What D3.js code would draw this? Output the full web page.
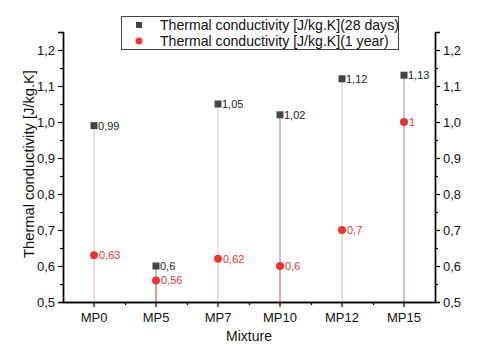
<!DOCTYPE html>
<html>
<head>
<meta charset="utf-8">
<script src="https://cdn.jsdelivr.net/npm/d3@7"></script>
<style>
  body { margin: 0; background: #fff; }
  text { font-family: "Liberation Sans", Arial, sans-serif; }
</style>
</head>
<body>
<svg id="chart" width="477" height="352"></svg>
<script>
var mixtures = ["MP0", "MP5", "MP7", "MP10", "MP12", "MP15"];
var days28 = [0.99, 0.6, 1.05, 1.02, 1.12, 1.13];
var year1 = [0.63, 0.56, 0.62, 0.6, 0.7, 1.0];
var yTicks = [0.5, 0.6, 0.7, 0.8, 0.9, 1.0, 1.1, 1.2];
var seriesNames = ["Thermal conductivity [J/kg.K](28 days)", "Thermal conductivity [J/kg.K](1 year)"];

// drop line shades (as rendered in the original)
var grayShades = ["#d6d6d6", "#9a9a9a", "#d6d6d6", "#9a9a9a", "#d6d6d6", "#ababab"];
var pinkShades = ["#fbd3d3", "#f77c7c", "#fbd3d3", "#f79090", "#fbd3d3", "#f7a0a0"];

var svg = d3.select("#chart");
var plotLeft = 63, plotRight = 435, plotTop = 32, plotBottom = 302;

var x = d3.scaleBand().domain(mixtures).range([plotLeft, plotRight]);
var y = d3.scaleLinear().domain([0.5, 1.25]).range([plotBottom, plotTop]);
var cx = d => x(d) + x.bandwidth() / 2;
var fmt = v => String(v).replace(".", ",");

// drop lines
var g = svg.append("g");
g.selectAll(".gline").data(mixtures).enter().append("line")
  .attr("x1", d => cx(d)).attr("x2", d => cx(d))
  .attr("y1", (d, i) => y(days28[i])).attr("y2", plotBottom)
  .attr("stroke", (d, i) => grayShades[i]).attr("stroke-width", 1.2);
g.selectAll(".pline").data(mixtures).enter().append("line")
  .attr("x1", d => cx(d)).attr("x2", d => cx(d))
  .attr("y1", (d, i) => y(year1[i])).attr("y2", plotBottom)
  .attr("stroke", (d, i) => pinkShades[i]).attr("stroke-width", 1.2);

// axes
var fmtTick = d => d3.format(".1f")(d).replace(".", ",");
var yMinor = d3.range(0.55, 1.25, 0.1);

svg.append("g").attr("transform", "translate(" + plotLeft + ",0)")
  .call(d3.axisLeft(y).tickValues(yTicks).tickFormat(fmtTick).tickSize(5).tickPadding(3));
svg.append("g").attr("transform", "translate(" + plotRight + ",0)")
  .call(d3.axisRight(y).tickValues(yTicks).tickFormat(fmtTick).tickSize(5).tickPadding(3));
svg.append("g").attr("transform", "translate(" + plotLeft + ",0)")
  .call(d3.axisLeft(y).tickValues(yMinor).tickFormat("").tickSize(3).tickSizeOuter(0));
svg.append("g").attr("transform", "translate(" + plotRight + ",0)")
  .call(d3.axisRight(y).tickValues(yMinor).tickFormat("").tickSize(3).tickSizeOuter(0));

svg.append("g").attr("transform", "translate(0," + plotBottom + ")")
  .call(d3.axisBottom(x).tickSize(5).tickSizeOuter(0).tickPadding(6));
var xMinor = d3.scaleLinear().domain([0, 6]).range([plotLeft, plotRight]);
svg.append("g").attr("transform", "translate(0," + plotBottom + ")")
  .call(d3.axisBottom(xMinor).tickValues([1, 2, 3, 4, 5]).tickFormat("").tickSize(3).tickSizeOuter(0));

svg.selectAll(".domain").attr("stroke", "#000").attr("stroke-width", 1.4);
svg.selectAll(".tick line").attr("stroke", "#000").attr("stroke-width", 1.2);
svg.selectAll(".tick text").attr("font-size", 13).attr("fill", "#111")
  .attr("font-family", "'Liberation Sans', Arial, sans-serif");

// markers
svg.selectAll(".sq").data(mixtures).enter().append("rect")
  .attr("x", d => cx(d) - 3.5).attr("y", (d, i) => y(days28[i]) - 3.5)
  .attr("width", 7).attr("height", 7).attr("fill", "#444");
svg.selectAll(".dot").data(mixtures).enter().append("circle")
  .attr("cx", d => cx(d)).attr("cy", (d, i) => y(year1[i]))
  .attr("r", 4).attr("fill", "#f03434");

// value labels
svg.selectAll(".l1").data(mixtures).enter().append("text")
  .attr("x", d => cx(d) + 4).attr("y", (d, i) => y(days28[i]) + 4)
  .attr("font-size", 11).attr("fill", "#222")
  .text((d, i) => fmt(days28[i]));
svg.selectAll(".l2").data(mixtures).enter().append("text")
  .attr("x", d => cx(d) + 5).attr("y", (d, i) => y(year1[i]) + 4)
  .attr("font-size", 11).attr("fill", "#f03434")
  .text((d, i) => fmt(year1[i]));

// axis titles
svg.append("text").attr("x", 249).attr("y", 341).attr("text-anchor", "middle")
  .attr("font-size", 14).attr("fill", "#111").text("Mixture");
svg.append("text").attr("transform", "translate(34,164) rotate(-90)")
  .attr("text-anchor", "middle").attr("font-size", 14.7).attr("fill", "#111")
  .text("Thermal conductivity [J/kg.K]");

// legend
var lg = svg.append("g");
lg.append("rect").attr("x", 121.5).attr("y", 16.5).attr("width", 277).attr("height", 33)
  .attr("fill", "#fff").attr("stroke", "#444").attr("stroke-width", 1);
lg.append("rect").attr("x", 136).attr("y", 22).attr("width", 6).attr("height", 6).attr("fill", "#444");
lg.append("circle").attr("cx", 139).attr("cy", 41).attr("r", 3.5).attr("fill", "#f03434");
lg.selectAll(".lt").data(seriesNames).enter().append("text")
  .attr("x", 160).attr("y", (d, i) => 30 + i * 16)
  .attr("font-size", 14.1).attr("fill", "#111").text(d => d);
</script>
</body>
</html>
